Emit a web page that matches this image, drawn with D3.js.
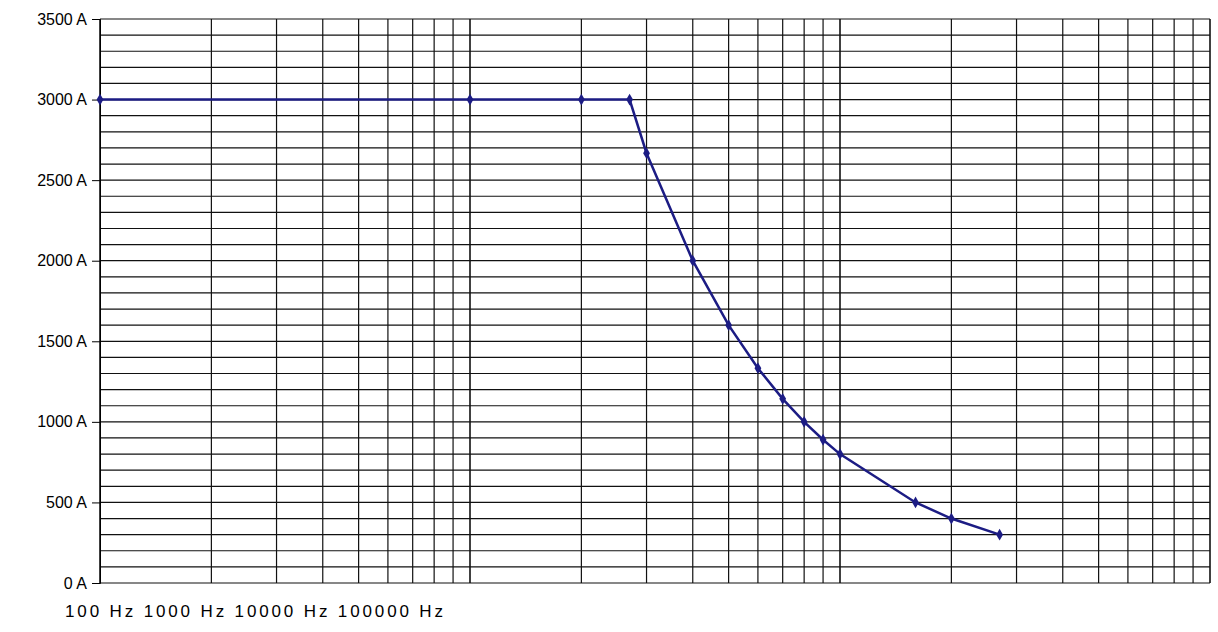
<!DOCTYPE html>
<html><head><meta charset="utf-8">
<script src="https://cdn.jsdelivr.net/npm/d3@7"></script>
<style>body{margin:0;background:#fff}text{font-family:"Liberation Sans",Arial,sans-serif}</style>
</head><body><svg id="chart" width="1218" height="632"></svg>
<script>
const freqs = [100, 1000, 2000, 2700, 3000, 4000, 5000, 6000, 7000, 8000, 9000, 10000, 16000, 20000, 27000];
const amps = [3000, 3000, 3000, 3000, 2667, 2000, 1600, 1333, 1143, 1000, 889, 800, 500, 400, 300];
const yTicks = [0, 500, 1000, 1500, 2000, 2500, 3000, 3500];
const xLabel = "100 Hz 1000 Hz 10000 Hz 100000 Hz";

const svg = d3.select("#chart");
const x = d3.scaleLog().domain([100, 100000]).range([100, 1210]);
const y = d3.scaleLinear().domain([0, 3500]).range([583, 19]);

// grid
const vgrid = [];
for (let d = 100; d < 100000; d *= 10) for (let k = 1; k < 10; k++) vgrid.push(d * k);
vgrid.push(100000);
svg.append("g").selectAll("line").data(vgrid).join("line")
  .attr("x1", d => x(d)).attr("x2", d => x(d)).attr("y1", y(3500)).attr("y2", y(0))
  .attr("stroke", "#111").attr("stroke-width", d => Math.log10(d) % 1 === 0 ? 1.6 : 1.2);
svg.append("g").selectAll("line").data(d3.range(0, 3501, 100)).join("line")
  .attr("x1", x(100)).attr("x2", x(100000)).attr("y1", d => y(d)).attr("y2", d => y(d))
  .attr("stroke", "#111").attr("stroke-width", 1.2);

// y axis
svg.append("g").attr("transform", `translate(${x(100)},0)`)
  .call(d3.axisLeft(y).tickValues(yTicks).tickSize(8).tickPadding(5).tickFormat(d => d + " A"))
  .call(g => g.selectAll("text").attr("font-size", 16).attr("fill", "#000"))
  .call(g => g.selectAll("line,path").attr("stroke", "#000"));

svg.append("text").attr("x", 65).attr("y", 617).attr("font-size", 17)
  .attr("textLength", 378).attr("lengthAdjust", "spacing").text(xLabel);

// line
const pts = freqs.map((f, i) => [f, amps[i]]);
svg.append("path").datum(pts)
  .attr("d", d3.line().x(d => x(d[0])).y(d => y(d[1])))
  .attr("fill", "none").attr("stroke", "#1c1c84").attr("stroke-width", 2.5);
svg.append("g").selectAll("path").data(pts).join("path")
  .attr("transform", d => `translate(${x(d[0])},${y(d[1])})`)
  .attr("d", d3.symbol(d3.symbolDiamond, 40))
  .attr("fill", "#1c1c84");
</script></body></html>
